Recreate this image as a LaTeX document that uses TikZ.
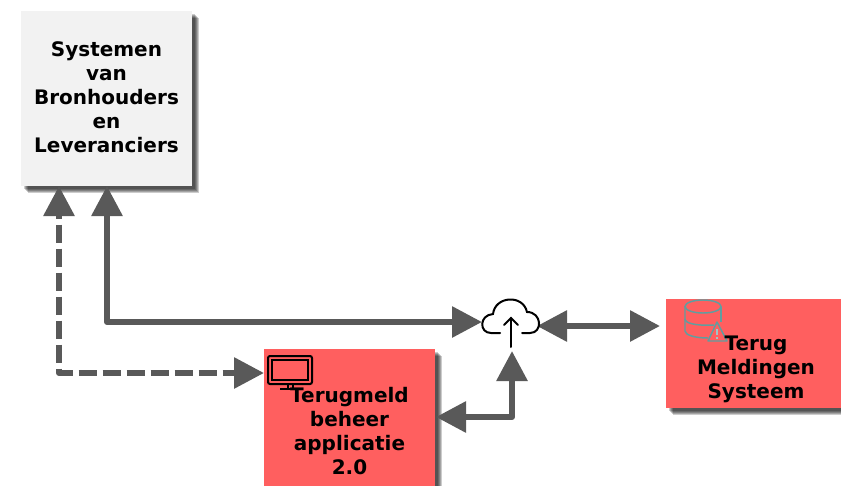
\documentclass[tikz,border=0pt]{standalone}
\usepackage{fontspec}
\setmainfont{DejaVu Sans}
\usepackage{xcolor}
\usepackage{tikz}
\usetikzlibrary{arrows.meta,shadows}
\definecolor{boxred}{HTML}{FF5F5F}
\definecolor{boxgrey}{HTML}{F2F2F2}
\definecolor{linegrey}{HTML}{595959}
\definecolor{icontea}{HTML}{5F9EA0}
\tikzset{
  softshadow/.style={general shadow={shadow xshift=#1,shadow yshift=-#1,fill=black,opacity=.2}},
  sysbox/.style={minimum width=128.25pt,minimum height=131.25pt,inner sep=0pt,align=center,
    font=\bfseries\fontsize{15}{18}\selectfont,
    softshadow=5.2pt,softshadow=4.4pt,softshadow=3.6pt,softshadow=2.8pt,softshadow=2pt},
  boxtext/.style={inner sep=0pt,align=center,font=\bfseries\fontsize{15}{18}\selectfont},
  conn/.style={draw=linegrey,line width=4.5pt,line join=round,
    {Triangle[length=22.5pt,width=22.5pt]}-{Triangle[length=22.5pt,width=22.5pt]},linegrey},
  dashconn/.style={conn,dash pattern=on 13.5pt off 4.5pt,dash phase=10.5pt},
  iconline/.style={line width=1.5pt,line cap=round}
}
\begin{document}
\begin{tikzpicture}[x=0.75pt,y=-0.75pt]
\clip (0,0) rectangle (841,485);
\node[sysbox,fill=boxgrey] (sys) at (106.5,98.5) {};
\node[boxtext] (systxt) at (106.5,97.5) {Systemen\\van\\Bronhouders\\en\\Leveranciers};
\node[sysbox,fill=boxred,minimum height=124.5pt] (tba) at (349.5,432) {};
\node[sysbox,fill=boxred,minimum width=135pt,minimum height=81.75pt] (tms) at (756,353.5) {};
\node[minimum width=43.5pt,minimum height=40.5pt,inner sep=0pt] (cloud) at (511,324) {};
\coordinate (sysa) at (59,186);
\coordinate (sysb) at (107,186);
\coordinate (tbaw) at (264,373);
\coordinate (tbae) at (436,417);
\coordinate (cloudw) at (482,322);
\coordinate (cloude) at (537,326);
\coordinate (clouds) at (512,351);
\coordinate (tmsw) at (660,326);
% monitor icon
\draw[iconline,rounded corners=1.5pt] (268,356) rectangle (312,384);
\draw[line width=1.1pt] (272,360) rectangle (308,380);
\draw[line width=1.1pt] (288,384) -- (288,389) (293,384) -- (293,389);
\draw[line width=1.1pt] (280,389) -- (297,389);
% database icon
\begin{scope}[icontea,line width=1.1pt]
\draw (703,306.5) ellipse (18 and 6.5);
\draw (685,306.5) -- (685,331) .. controls (685,335) and (695,338) .. (708,338);
\draw (721,306.5) -- (721,322);
\draw (685,319) .. controls (685,323) and (695,326) .. (714,325);
\draw[line join=round] (717,322) -- (708,341) -- (727,341) -- cycle;
\draw[icontea!60,line width=.8pt] (717,329) -- (717,335) (717,337) -- (717,338.5);
\end{scope}
\node[boxtext] (tbatxt) at (349.5,431.5) {Terugmeld\\beheer\\applicatie\\2.0};
\node[boxtext] (tmstxt) at (756,369) {Terug\\Meldingen\\Systeem};
% connectors
\draw[conn] (sysb) -- (107,322) -- (cloudw);
\draw[dashconn] (sysa) -- (59,373) -- (tbaw);
\draw[conn] (cloude) -- (tmsw);
\draw[conn] (tbae) -- (512,417) -- (clouds);
% cloud icon
\draw[iconline] (500,333) -- (491,333) .. controls (479,333) and (479,315) .. (493,314)
  .. controls (495,296) and (523,294) .. (527,312)
  .. controls (542,312) and (543,333) .. (530,333) -- (522,333);
\draw[iconline] (511,347) -- (511,318);
\draw[iconline] (504,325) -- (511,318) -- (518,325);
\end{tikzpicture}
\end{document}
